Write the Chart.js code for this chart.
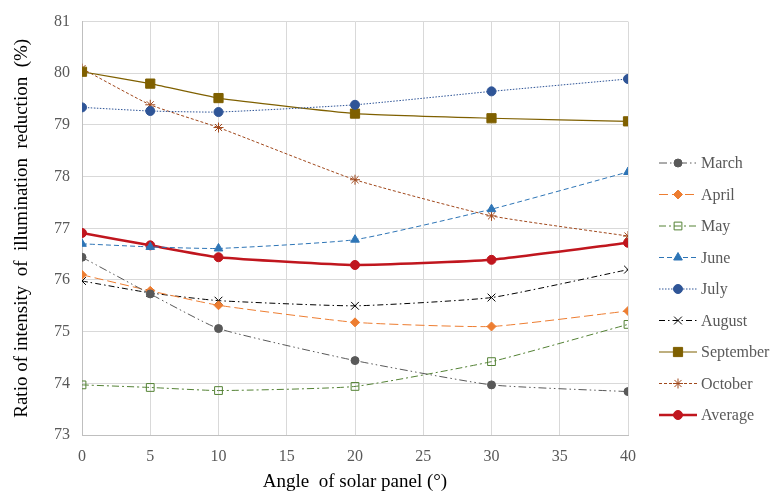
<!DOCTYPE html>
<html>
<head>
<meta charset="utf-8">
<script src="https://cdn.jsdelivr.net/npm/chart.js@4/dist/chart.umd.min.js"></script>
<style>
  html, body { margin: 0; padding: 0; background: #fff; }
  #wrap { width: 771px; height: 497px; position: relative; }
</style>
</head>
<body>
<div id="wrap"><canvas id="angle-chart"></canvas></div>
<script>
// angle of the panel (degrees)
var angles = [0, 5, 10, 20, 30, 40];

// ratio of illumination reduction (%) per month
var march     = [76.44, 75.73, 75.06, 74.44, 73.97, 73.84];
var april     = [76.10, 75.79, 75.51, 75.18, 75.10, 75.40];
var may       = [73.97, 73.92, 73.86, 73.94, 74.42, 75.14];
var june      = [76.70, 76.64, 76.61, 76.78, 77.37, 78.09];
var july      = [79.34, 79.27, 79.25, 79.39, 79.65, 79.89];
var august    = [75.98, 75.75, 75.60, 75.50, 75.66, 76.20];
var september = [80.03, 79.80, 79.52, 79.22, 79.13, 79.07];
var october   = [80.09, 79.39, 78.95, 77.94, 77.24, 76.85];
var average   = [76.91, 76.67, 76.44, 76.29, 76.39, 76.72];

var xTicks = [0, 5, 10, 15, 20, 25, 30, 35, 40];
var yTicks = [73, 74, 75, 76, 77, 78, 79, 80, 81];

function pts(vals) {
    return vals.map(function (v, i) { return { x: angles[i], y: v }; });
}

function series(label, vals, color, dash, style, radius, width, fill) {
    return {
        label: label,
        data: pts(vals),
        borderColor: color,
        backgroundColor: fill === undefined ? color : fill,
        pointBorderColor: color,
        borderWidth: width || 1,
        borderDash: dash,
        pointStyle: style,
        pointRadius: radius,
        pointBorderWidth: 1,
        pointHoverRadius: radius,
        tension: 0.15,
        fill: false
    };
}

var datasets = [
    series('March', march, '#595959', [8, 3, 1.5, 3, 1.5, 3], 'circle', 4),
    series('April', april, '#ED7D31', [9, 4], 'rectRot', 4.5),
    series('May', may, '#548235', [7, 3, 2, 3], 'rect', 5.5, 1, 'rgba(255,255,255,0)'),
    series('June', june, '#2E75B6', [5, 3], 'triangle', 5),
    series('July', july, '#2F5597', [1.5, 1.5], 'circle', 4.5),
    series('August', august, '#000000', [6, 3, 1.5, 3], 'crossRot', 5.5),
    series('September', september, '#7F6000', [], 'rect', 6.5, 1.2),
    series('October', october, '#A0481C', [3, 2], 'star', 5),
    series('Average', average, '#C0161E', [], 'circle', 4.5, 2.5)
];

// legend drawn as line segment + marker like the original figure
var sideLegend = {
    id: 'sideLegend',
    afterDraw: function (chart) {
        var ctx = chart.ctx;
        var x0 = 659, x1 = 697, top = 163, step = 31.5;
        chart.data.datasets.forEach(function (ds, i) {
            var y = top + i * step;
            ctx.save();
            ctx.strokeStyle = ds.borderColor;
            ctx.lineWidth = ds.borderWidth;
            ctx.setLineDash(ds.borderDash);
            ctx.beginPath();
            ctx.moveTo(x0, y);
            ctx.lineTo(x1, y);
            ctx.stroke();
            ctx.setLineDash([]);
            ctx.fillStyle = ds.backgroundColor;
            ctx.strokeStyle = ds.pointBorderColor;
            ctx.lineWidth = 1;
            Chart.helpers.drawPoint(ctx, {
                pointStyle: ds.pointStyle,
                radius: ds.pointRadius,
                rotation: 0,
                borderWidth: 1
            }, (x0 + x1) / 2, y);
            ctx.fillStyle = '#595959';
            ctx.font = '16px "Liberation Serif", serif';
            ctx.textBaseline = 'middle';
            ctx.fillText(ds.label, x1 + 4, y + 1);
            ctx.restore();
        });
    }
};

Chart.defaults.font.family = '"Liberation Serif", "Times New Roman", serif';
Chart.defaults.color = '#595959';

var ctx = document.getElementById('angle-chart').getContext('2d');
var myChart = new Chart(ctx, {
    type: 'line',
    data: { datasets: datasets },
    options: {
        responsive: true,
        maintainAspectRatio: false,
        animation: false,
        layout: { padding: { top: 9, right: 143, bottom: 0, left: 7 } },
        plugins: {
            legend: { display: false },
            tooltip: { enabled: false }
        },
        scales: {
            x: {
                type: 'linear',
                min: 0,
                max: 40,
                afterBuildTicks: function (scale) {
                    scale.ticks = xTicks.map(function (v) { return { value: v }; });
                },
                afterFit: function (scale) { scale.height = 62; },
                grid: { color: '#d9d9d9', tickLength: 0 },
                border: { color: '#bfbfbf' },
                ticks: { font: { size: 16 }, padding: 12 },
                title: {
                    display: true,
                    text: 'Angle  of solar panel (°)',
                    font: { size: 19 },
                    color: '#000',
                    padding: { top: 6 }
                }
            },
            y: {
                min: 73,
                max: 81,
                afterBuildTicks: function (scale) {
                    scale.ticks = yTicks.map(function (v) { return { value: v }; });
                },
                afterFit: function (scale) { scale.width = 75; },
                grid: { color: '#d9d9d9', tickLength: 0 },
                border: { color: '#bfbfbf' },
                ticks: { font: { size: 16 }, padding: 12 },
                title: {
                    display: true,
                    text: 'Ratio of intensity  of  illumination  reduction  (%)',
                    font: { size: 19 },
                    color: '#000',
                    padding: { top: 4, bottom: 0 }
                }
            }
        }
    },
    plugins: [sideLegend]
});
</script>
</body>
</html>
